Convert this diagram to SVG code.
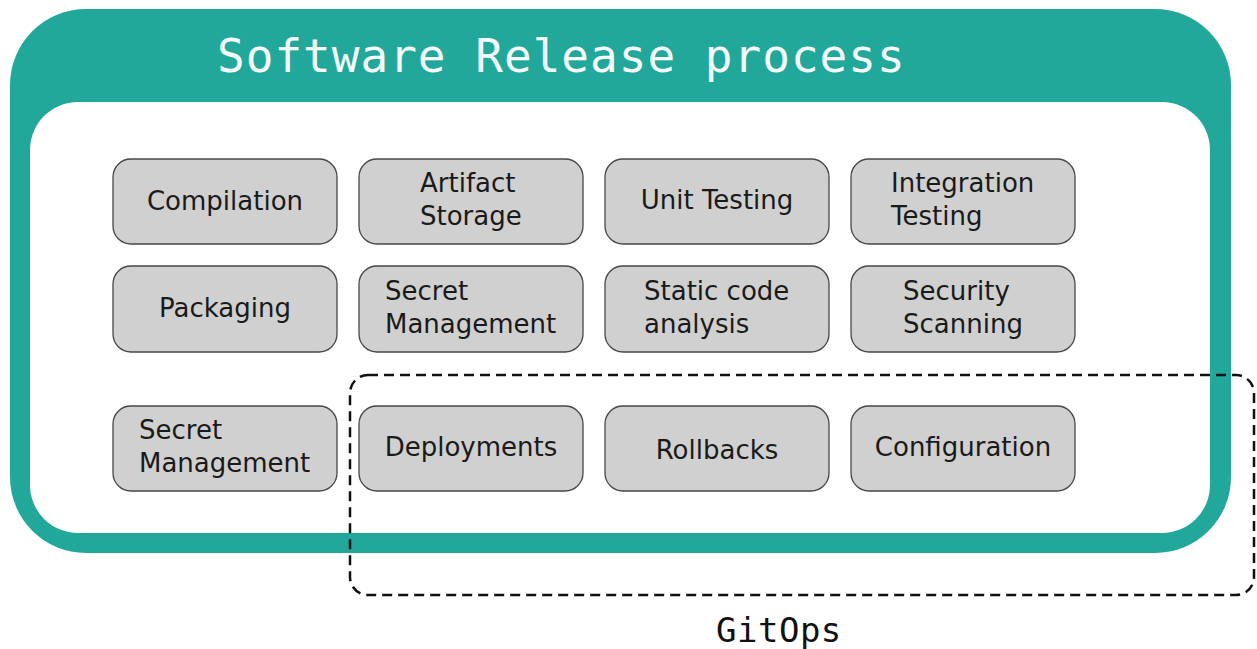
<svg xmlns="http://www.w3.org/2000/svg" width="1257" height="649" viewBox="0 0 1257 649">
  <style>
    .node rect { fill: #d0d0d0; stroke: #474747; stroke-width: 1.3; }
    .node text { font-family: "DejaVu Sans", "Liberation Sans", sans-serif; font-size: 26px; fill: #1a1a1a; }
    .mid { text-anchor: middle; }
    .title { font-family: "DejaVu Sans Mono", "Liberation Mono", monospace; font-size: 46px; letter-spacing: 1px; fill: #f4fbfa; }
    .label { font-family: "DejaVu Sans Mono", "Liberation Mono", monospace; font-size: 34px; letter-spacing: 0.5px; fill: #111; }
  </style>

  <!-- process frame -->
  <g id="process-frame">
    <rect x="10" y="9" width="1221" height="544" rx="76" fill="#21a89a"/>
    <rect x="30" y="102" width="1180" height="431" rx="48" fill="#ffffff"/>
    <text class="title" x="217" y="72">Software Release process</text>
  </g>

  <!-- row 1 -->
  <g id="compilation" class="node">
    <rect x="113" y="159" width="224" height="85" rx="18"/>
    <text class="mid" x="225" y="210">Compilation</text>
  </g>
  <g id="artifact-storage" class="node">
    <rect x="359" y="159" width="224" height="85" rx="18"/>
    <text x="420" y="192">Artifact</text>
    <text x="420" y="225">Storage</text>
  </g>
  <g id="unit-testing" class="node">
    <rect x="605" y="159" width="224" height="85" rx="18"/>
    <text class="mid" x="717" y="209">Unit Testing</text>
  </g>
  <g id="integration-testing" class="node">
    <rect x="851" y="159" width="224" height="85" rx="18"/>
    <text x="891" y="192">Integration</text>
    <text x="891" y="225">Testing</text>
  </g>

  <!-- row 2 -->
  <g id="packaging" class="node">
    <rect x="113" y="266" width="224" height="86" rx="18"/>
    <text class="mid" x="225" y="317">Packaging</text>
  </g>
  <g id="secret-management" class="node">
    <rect x="359" y="266" width="224" height="86" rx="18"/>
    <text x="385" y="300">Secret</text>
    <text x="385" y="333">Management</text>
  </g>
  <g id="static-code-analysis" class="node">
    <rect x="605" y="266" width="224" height="86" rx="18"/>
    <text x="644" y="300">Static code</text>
    <text x="644" y="333">analysis</text>
  </g>
  <g id="security-scanning" class="node">
    <rect x="851" y="266" width="224" height="86" rx="18"/>
    <text x="903" y="300">Security</text>
    <text x="903" y="333">Scanning</text>
  </g>

  <!-- row 3 -->
  <g id="secret-management-2" class="node">
    <rect x="113" y="406" width="224" height="85" rx="18"/>
    <text x="139" y="439">Secret</text>
    <text x="139" y="472">Management</text>
  </g>
  <g id="deployments" class="node">
    <rect x="359" y="406" width="224" height="85" rx="18"/>
    <text class="mid" x="471" y="456">Deployments</text>
  </g>
  <g id="rollbacks" class="node">
    <rect x="605" y="406" width="224" height="85" rx="18"/>
    <text class="mid" x="717" y="459">Rollbacks</text>
  </g>
  <g id="configuration" class="node">
    <rect x="851" y="406" width="224" height="85" rx="18"/>
    <text class="mid" x="963" y="456">Configuration</text>
  </g>

  <!-- GitOps grouping -->
  <g id="gitops">
    <rect x="350" y="375" width="904" height="220" rx="18" fill="none" stroke="#111" stroke-width="2.5" stroke-dasharray="10 6"/>
    <text class="label" x="716" y="642">GitOps</text>
  </g>

  <g id="connectors"></g>
</svg>
